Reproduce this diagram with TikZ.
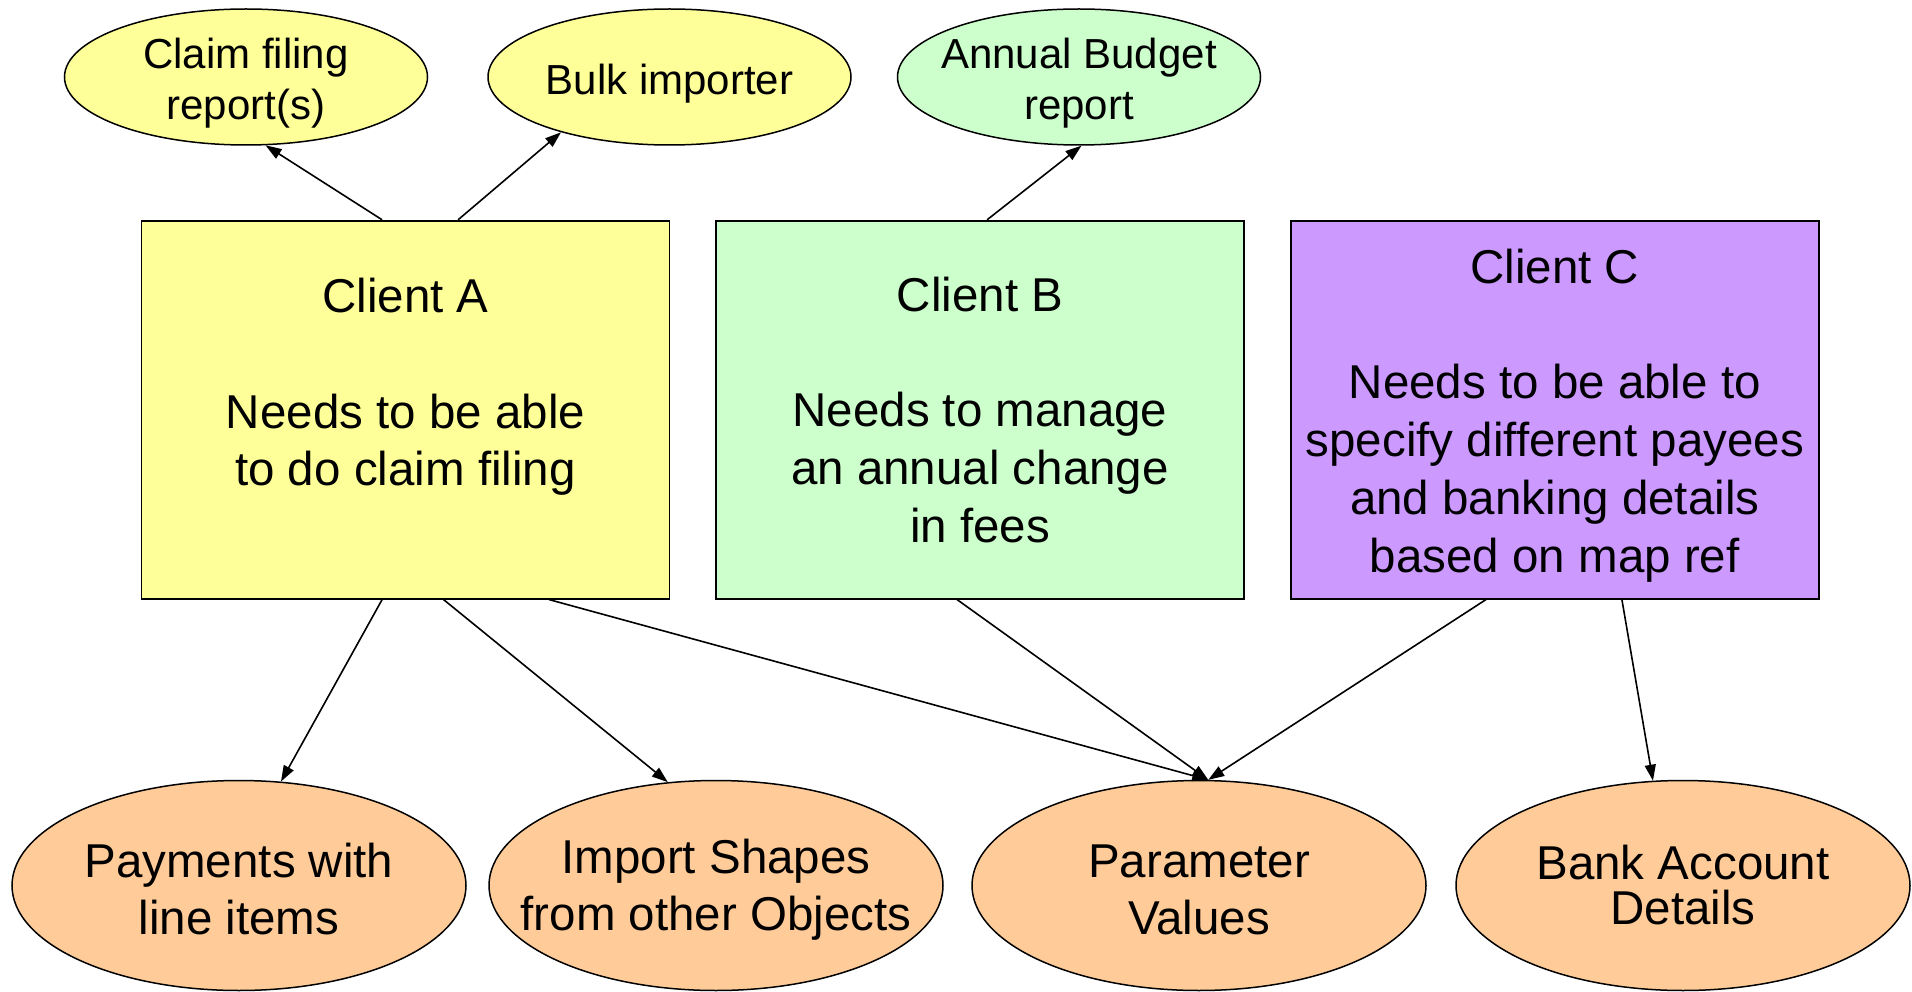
\documentclass[tikz,border=0pt]{standalone}
\usepackage{fontspec}
\setmainfont{Liberation Sans}
\usetikzlibrary{shapes.geometric,arrows.meta,calc}
\definecolor{cyel}{HTML}{FFFF99}
\definecolor{cgreen}{HTML}{CCFFCC}
\definecolor{cpurple}{HTML}{CC99FF}
\definecolor{corange}{HTML}{FFCC99}
\tikzset{
  box/.style={draw=black, line width=1.8pt, rectangle, minimum width=528pt, minimum height=378pt, inner sep=0pt, align=center, font=\fontsize{47.5}{57.7}\selectfont},
  topell/.style={draw=black, line width=1.5pt, ellipse, minimum width=363pt, minimum height=136pt, inner sep=-60pt, align=center, font=\fontsize{42}{51.5}\selectfont},
  botell/.style={draw=black, line width=1.5pt, ellipse, minimum width=454pt, minimum height=210pt, inner sep=-60pt, align=center, font=\fontsize{47.5}{57}\selectfont},
  conn/.style={draw=black, line width=1.6pt, -{Triangle[length=16pt,width=11pt]}}
}
\begin{document}
\begin{tikzpicture}[x=1pt,y=-1pt]
\useasboundingbox (0,0) rectangle (1912,992);
% top ellipses
\node[topell, fill=cyel] (claim) at (246,77) {\rule{0pt}{43pt}Claim filing\\report(s)};
\node[topell, fill=cyel] (bulk) at (669.5,77) {\rule{0pt}{43pt}Bulk importer};
\node[topell, fill=cgreen] (annual) at (1079,77) {\rule{0pt}{43pt}Annual Budget\\report};
% boxes
\node[box, fill=cyel] (A) at (405.5,409.7) {\rule{0pt}{54pt}Client A\\[57.7pt]Needs to be able\\to do claim filing\\\strut};
\node[box, fill=cgreen] (B) at (980,409.7) {Client B\\[57.7pt]Needs to manage\\an annual change\\in fees};
\node[box, fill=cpurple] (C) at (1554.8,409.7) {\rule{0pt}{46pt}Client C\\[57.7pt]Needs to be able to\\specify different payees\\and banking details\\based on map ref};
% bottom ellipses
\node[botell, fill=corange] (pay) at (239,885.5) {\rule{0pt}{42pt}Payments with\\line items};
\node[botell, fill=corange] (imp) at (716,885.5) {\rule{0pt}{42pt}Import Shapes\\from other Objects};
\node[botell, fill=corange] (param) at (1199,885.5) {\rule{0pt}{42pt}Parameter\\Values};
\node[botell, fill=corange, font=\fontsize{47.5}{45}\selectfont] (bank) at (1683,885.5) {Bank Account\\Details};
% connectors
\draw[conn] ($(A.north west)+(241.5,0)$) -- (claim.-74.6);
\draw[conn] ($(A.north west)+(317.5,0)$) -- (bulk.-153.3);
\draw[conn] ($(B.north west)+(272,0)$) -- (annual.-88.5);
\draw[conn] ($(A.south west)+(241.5,0)$) -- (pay.68.2);
\draw[conn] ($(A.south west)+(303,0)$) -- (imp.115.2);
\draw[conn] ($(A.south west)+(408.5,0)$) -- (param.85.6);
\draw[conn] ($(B.south west)+(242,0)$) -- (param.85.6);
\draw[conn] ($(C.south west)+(196,0)$) -- (param.85.6);
\draw[conn] ($(C.south west)+(332,0)$) -- (bank.106.4);
\end{tikzpicture}
\end{document}
